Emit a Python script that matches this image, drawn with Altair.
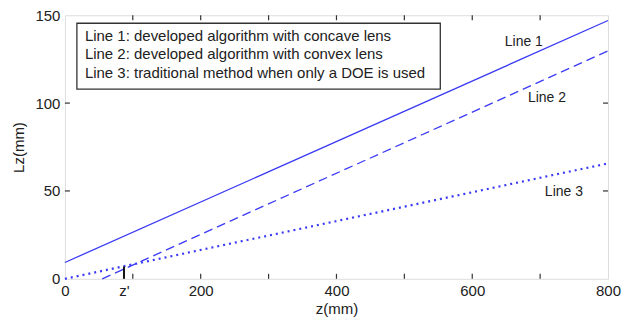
import altair as alt
import pandas as pd

# Line endpoints (straight lines)
line1_z = [0, 800]
line1_lz = [9.3, 147]
line2_z = [55, 800]
line2_lz = [0, 129.7]
line3_z = [0, 800]
line3_lz = [0, 65.7]

x_label_values = [0, 87, 200, 400, 600, 800]
x_minor_ticks = [100, 200, 300, 400, 500, 600, 700]
y_ticks = [50, 100]
z_prime = 87
z_prime_height = 7

line_labels = ["Line 1", "Line 2", "Line 3"]
line_label_z = [676, 710, 735]
line_label_lz = [134.7, 102.8, 49.4]

legend_lines = [
    "Line 1: developed algorithm with concave lens",
    "Line 2: developed algorithm with convex lens",
    "Line 3: traditional method when only a DOE is used",
]

BLUE = "#3a3af5"
FONT = "Liberation Sans"

xs = alt.Scale(domain=[0, 800], nice=False, zero=False)
ys = alt.Scale(domain=[0, 150], nice=False, zero=False)

xaxis = alt.Axis(values=x_label_values, labelExpr="datum.value == 87 ? \"z'\" : datum.label",
                 ticks=False, domain=False, grid=False, labelFlush=False,
                 labelFontSize=15, labelColor="#222", labelPadding=5,
                 title="z(mm)", titleFontSize=15, titleFontWeight="normal", titleColor="#222",
                 titlePadding=3, labelFont=FONT, titleFont=FONT)
yaxis = alt.Axis(values=[0, 50, 100, 150], ticks=False, domain=False, grid=False, labelFlush=False,
                 labelFontSize=15, labelColor="#222", labelPadding=5,
                 title="Lz(mm)", titleFontSize=15, titleFontWeight="normal", titleColor="#222",
                 titlePadding=8, labelFont=FONT, titleFont=FONT)

d1 = pd.DataFrame({"z": line1_z, "lz": line1_lz})
d2 = pd.DataFrame({"z": line2_z, "lz": line2_lz})
d3 = pd.DataFrame({"z": line3_z, "lz": line3_lz})

l1 = alt.Chart(d1).mark_line(color=BLUE, strokeWidth=1.3).encode(
    x=alt.X("z:Q", scale=xs, axis=xaxis), y=alt.Y("lz:Q", scale=ys, axis=yaxis))
l2 = alt.Chart(d2).mark_line(color=BLUE, strokeWidth=1.3, strokeDash=[9, 5]).encode(
    x=alt.X("z:Q", scale=xs), y=alt.Y("lz:Q", scale=ys))
l3 = alt.Chart(d3).mark_line(color=BLUE, strokeWidth=2.2, strokeDash=[2, 4]).encode(
    x=alt.X("z:Q", scale=xs), y=alt.Y("lz:Q", scale=ys))

dx = pd.DataFrame({"z": x_minor_ticks})
tb = alt.Chart(dx).mark_rule(color="#333", strokeWidth=1.2).encode(
    x=alt.X("z:Q", scale=xs), y=alt.value(264), y2=alt.value(259))
tt = alt.Chart(dx).mark_rule(color="#333", strokeWidth=1.2).encode(
    x=alt.X("z:Q", scale=xs), y=alt.value(0), y2=alt.value(5))
dy = pd.DataFrame({"lz": y_ticks})
tl = alt.Chart(dy).mark_rule(color="#333", strokeWidth=1.2).encode(
    y=alt.Y("lz:Q", scale=ys), x=alt.value(0), x2=alt.value(5))
tr = alt.Chart(dy).mark_rule(color="#333", strokeWidth=1.2).encode(
    y=alt.Y("lz:Q", scale=ys), x=alt.value(544), x2=alt.value(539))

dzp = pd.DataFrame({"z": [z_prime], "y0": [0], "y1": [z_prime_height]})
zp = alt.Chart(dzp).mark_rule(color="#111", strokeWidth=2).encode(
    x=alt.X("z:Q", scale=xs), y=alt.Y("y0:Q", scale=ys), y2="y1:Q")

dl = pd.DataFrame({"t": line_labels, "z": line_label_z, "lz": line_label_lz})
labels = alt.Chart(dl).mark_text(fontSize=14, font=FONT, color="#222", align="center", baseline="middle").encode(
    x=alt.X("z:Q", scale=xs), y=alt.Y("lz:Q", scale=ys), text="t:N")

box = alt.Chart(pd.DataFrame({"a": [0]})).mark_rect(fill="white", stroke="#333", strokeWidth=1.3).encode(
    x=alt.value(12), x2=alt.value(376), y=alt.value(8), y2=alt.value(74))

dleg = pd.DataFrame({"t": legend_lines, "py": [21, 39, 57.5]})
legtext = alt.Chart(dleg).mark_text(fontSize=15, font=FONT, color="#222", align="left", baseline="middle").encode(
    x=alt.value(20), y=alt.Y("py:Q", scale=None), text="t:N")

chart = alt.layer(box, legtext, l1, l2, l3, tb, tt, tl, tr, zp, labels).properties(
    width=544, height=264,
    autosize=alt.AutoSizeParams(type="none"),
    padding={"left": 57, "top": 7, "right": 15, "bottom": 40},
).configure_view(stroke="#333", strokeWidth=1.5).configure(background="white")

chart.save("out.html", embed_options={"renderer": "svg", "actions": False})
